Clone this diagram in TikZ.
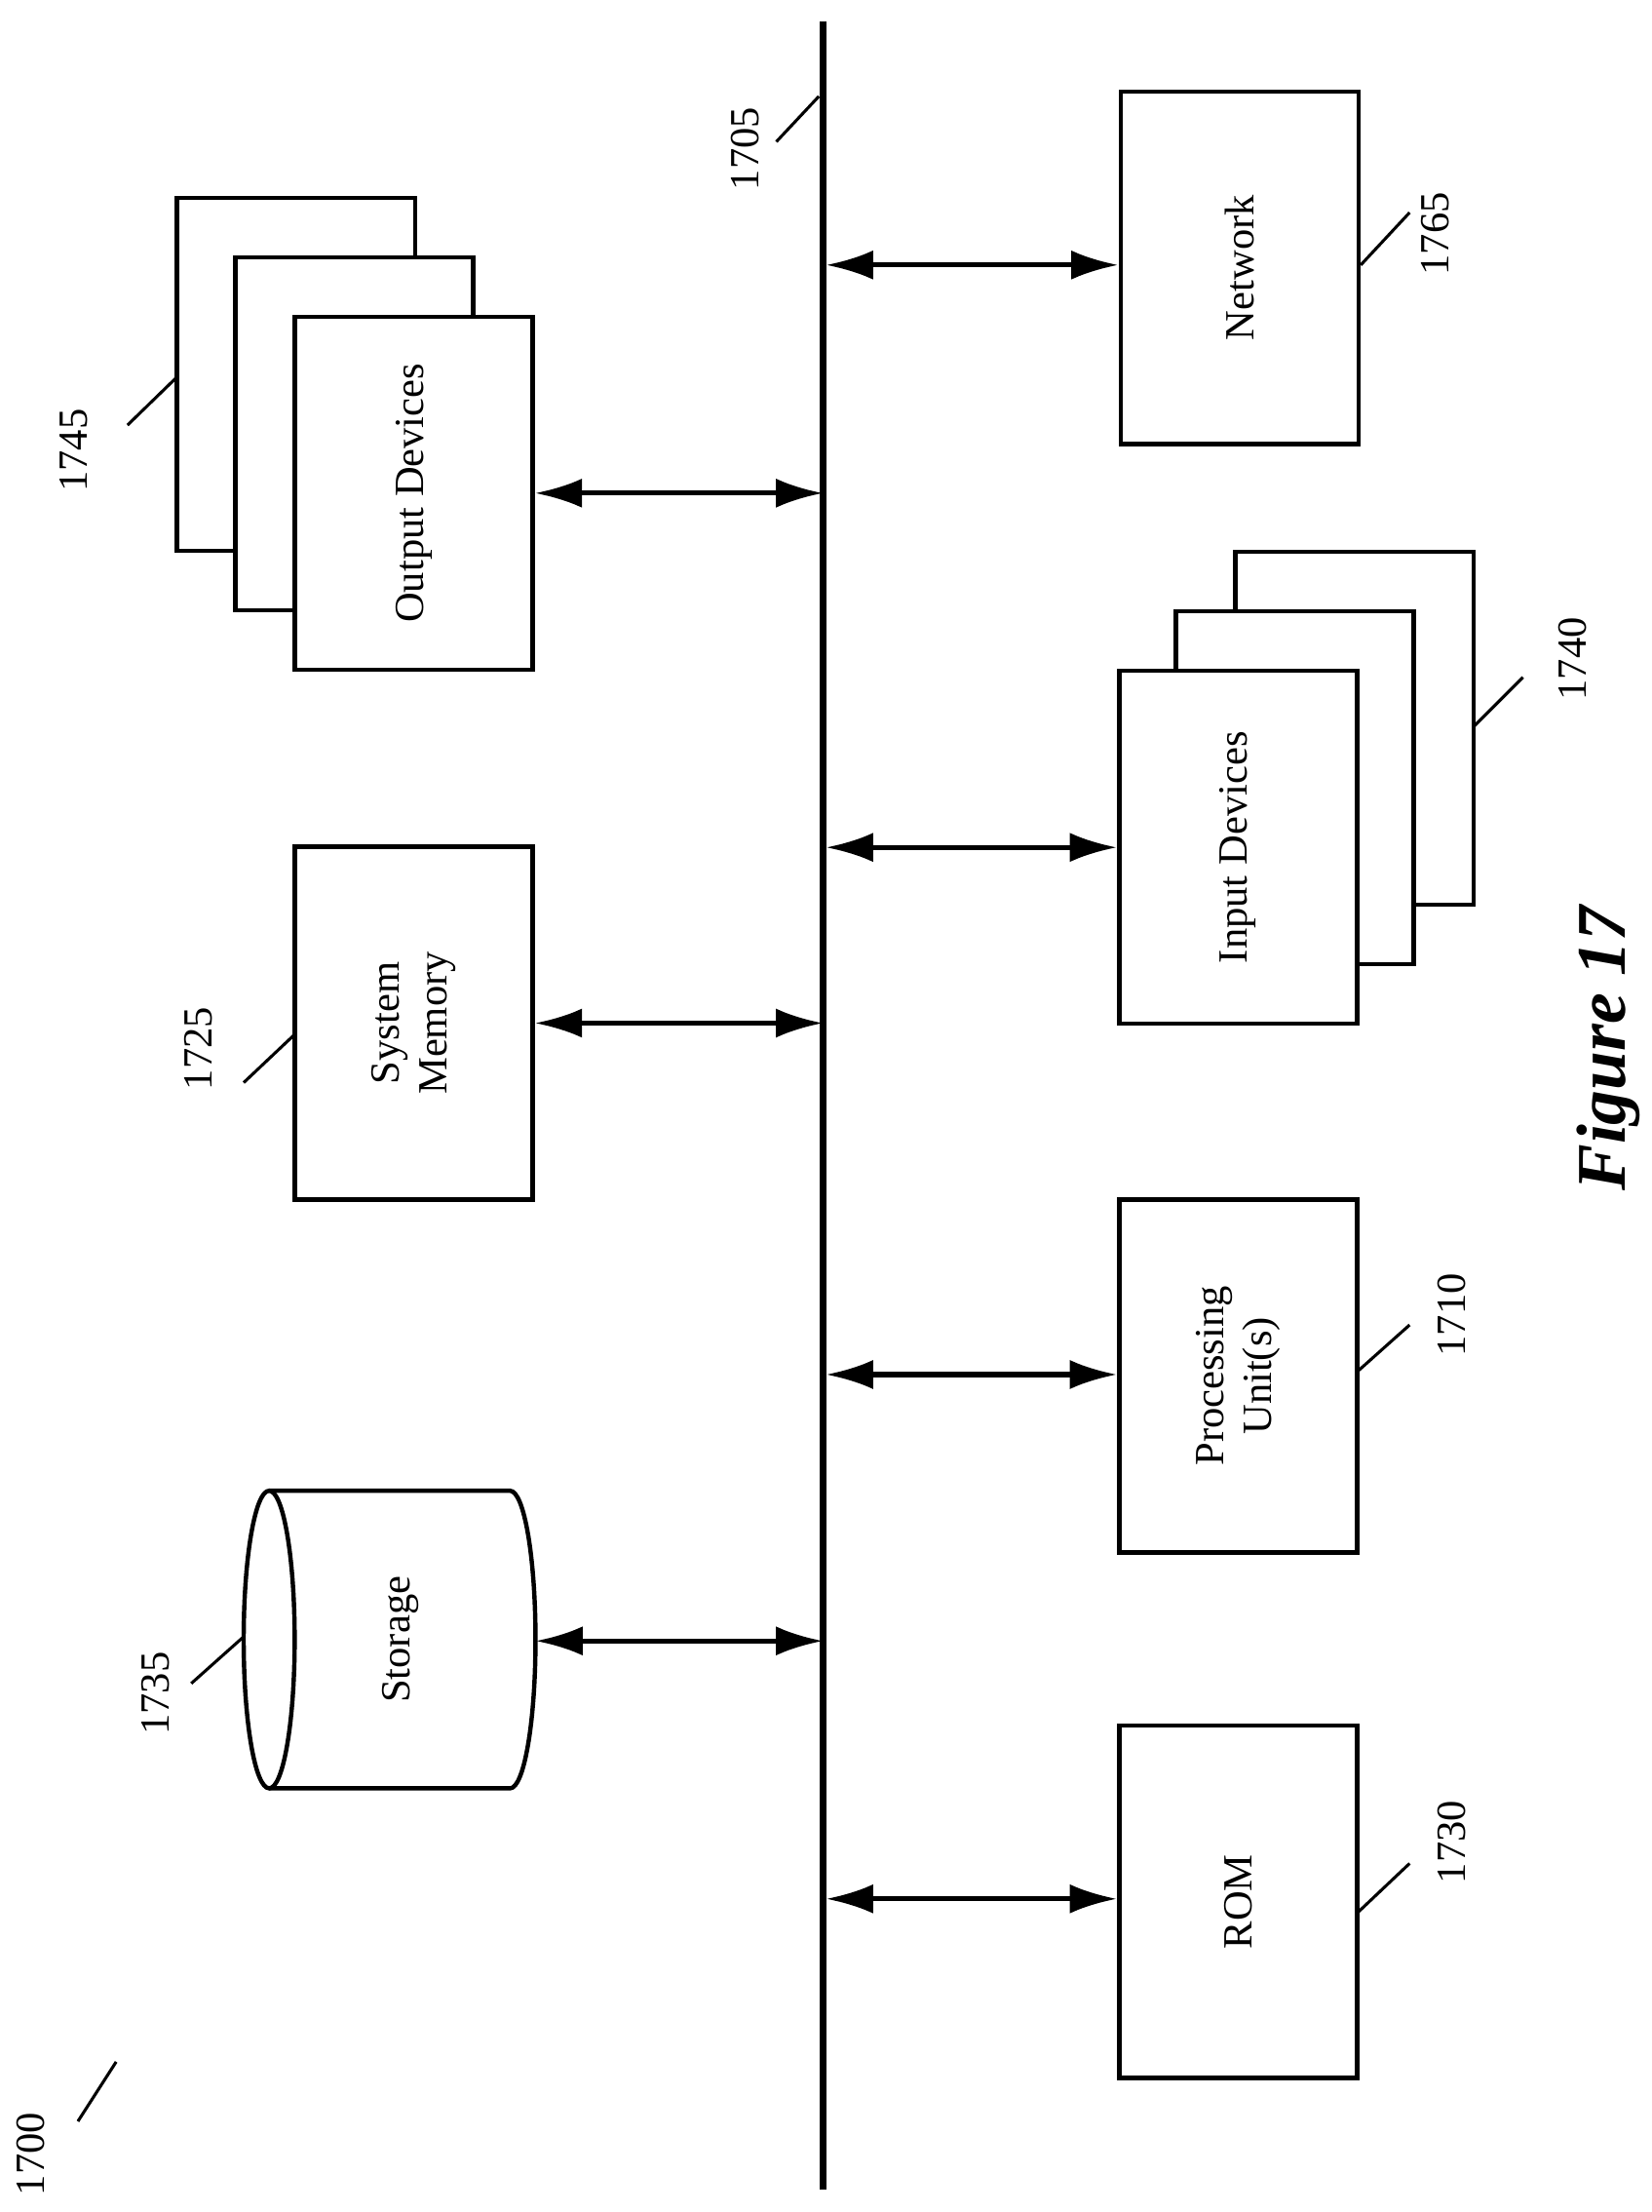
\documentclass[tikz,border=0pt]{standalone}
\usepackage{fontspec}
\setmainfont{Liberation Serif}
\usetikzlibrary{arrows.meta,shapes.geometric}
\begin{document}
\begin{tikzpicture}[x=0.03cm,y=-0.03cm,
  box/.style={draw,line width=2.6pt,fill=white,minimum width=5.04cm,minimum height=7.47cm,inner sep=0pt},
  txt/.style={rotate=90,font=\fontsize{25}{29}\selectfont,align=center},
  lab/.style={rotate=90,font=\fontsize{25}{29}\selectfont},
  arr/.style={line width=3pt,{Latex[length=1cm,width=0.62cm]}-{Latex[length=1cm,width=0.62cm]}},
  lead/.style={line width=1.8pt}]
\useasboundingbox (0,0) rectangle (1166,1561);
% bus
\coordinate (bt) at (581,15); \coordinate (bb) at (581,1545);
\draw[line width=3.6pt] (bt) -- (bb);
\node[lab] (l1705) at (526,105) {1705};
\coordinate (a1705) at (548,100); \coordinate (b1705) at (578,68);
\draw[lead] (a1705) -- (b1705);
% Network
\node[box] (net) at (875,189) {}; \node[txt] at (net) {Network};
\coordinate (n1) at (583,187);
\draw[arr] (n1) -- (n1 -| net.west);
\node[lab] (l1765) at (1013,165) {1765};
\coordinate (c1765) at (995,150); \draw[lead] (net.east |- 0,187) -- (c1765);
% Output devices
\node[box] (o3) at (209,264) {};
\node[box] (o2) at (250,306) {};
\node[box] (out) at (292,348) {}; \node[txt] at (out) {Output Devices};
\draw[arr] (out.east) -- (out.east -| bt) coordinate (n2);
\node[lab] (l1745) at (52,318) {1745};
\coordinate (c1745) at (90,300); \draw[lead] (c1745) -- (125,266);
% Input devices
\node[box] (i3) at (956,514) {};
\node[box] (i2) at (914,556) {};
\node[box] (inp) at (874,598) {}; \node[txt] at (inp) {Input Devices};
\coordinate (n3) at (583,598);
\draw[arr] (n3) -- (n3 -| inp.west);
\node[lab] (l1740) at (1110,465) {1740};
\coordinate (c1740) at (1075,478); \draw[lead] (1040,513) -- (c1740);
% System memory
\node[box] (mem) at (292,722) {}; \node[txt] at (mem) {System\\Memory};
\draw[arr] (mem.east) -- (mem.east -| bt) coordinate (n4);
\node[lab] (l1725) at (140,740) {1725};
\coordinate (c1725) at (172,764); \draw[lead] (c1725) -- (208,730);
% Processing unit
\node[box] (pu) at (874,971) {}; \node[txt] at (pu) {Processing\\Unit(s)};
\coordinate (n5) at (583,970);
\draw[arr] (n5) -- (n5 -| pu.west);
\node[lab] (l1710) at (1025,928) {1710};
\coordinate (c1710) at (995,935); \draw[lead] (958,968) -- (c1710);
% Storage (cylinder)
\draw[line width=2.6pt,fill=white] (190,1052) -- (360,1052)
  arc[start angle=90,end angle=-90,x radius=0.54cm,y radius=3.15cm] -- (190,1262);
\draw[line width=2.6pt,fill=white] (190,1157) ellipse [x radius=0.54cm,y radius=3.15cm];
\coordinate (sto) at (378,1158);
\node[txt] at (283,1157) {Storage};
\draw[arr] (sto) -- (sto -| bt) coordinate (n6);
\node[lab] (l1735) at (110,1195) {1735};
\coordinate (c1735) at (135,1188); \draw[lead] (c1735) -- (172,1155);
% ROM
\node[box] (rom) at (874,1342) {}; \node[txt] at (rom) {ROM};
\coordinate (n7) at (583,1340);
\draw[arr] (n7) -- (n7 -| rom.west);
\node[lab] (l1730) at (1025,1300) {1730};
\coordinate (c1730) at (995,1315); \draw[lead] (958,1350) -- (c1730);
% 1700
\node[lab] (l1700) at (22,1520) {1700};
\coordinate (c1700a) at (55,1497); \coordinate (c1700b) at (82,1455);
\draw[lead] (c1700a) -- (c1700b);
% Figure
\node[rotate=90,font=\fontsize{42}{48}\selectfont\bfseries\itshape] (fig) at (1135,740) {Figure 17};
\end{tikzpicture}
\end{document}
